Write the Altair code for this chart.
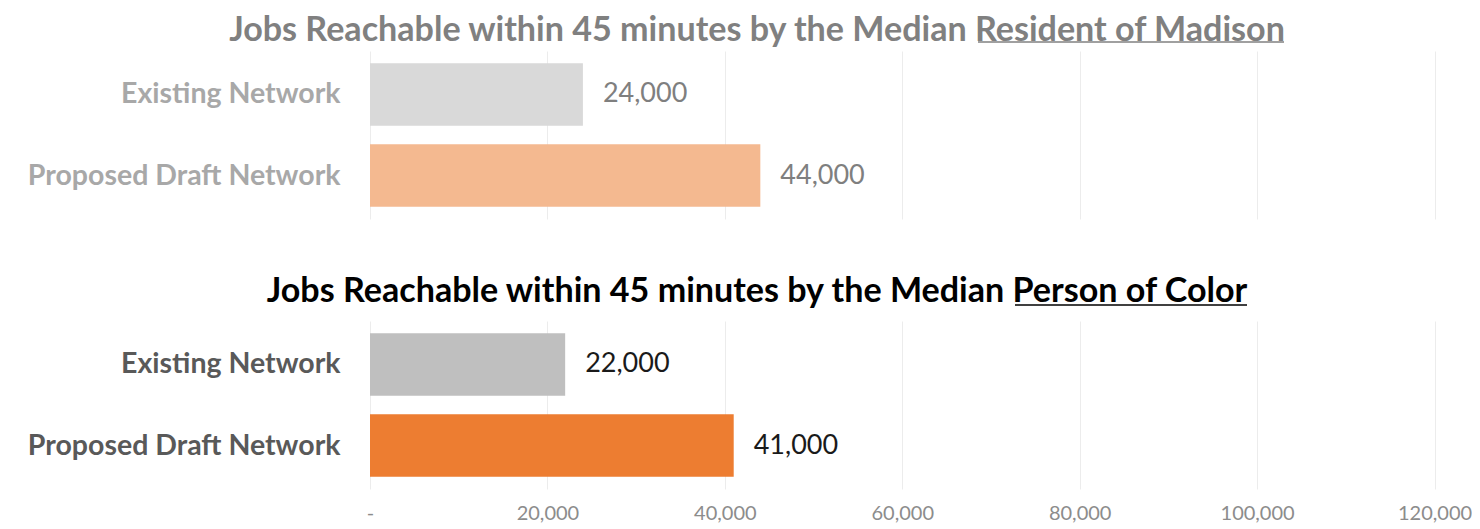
import altair as alt
import pandas as pd

networks = ["Existing Network", "Proposed Draft Network"]
madison_jobs = [24000, 44000]
poc_jobs = [22000, 41000]
x_ticks = [0, 20000, 40000, 60000, 80000, 100000, 120000]

title_top_plain = "Jobs Reachable within 45 minutes by the Median "
title_top_ul = "Resident of Madison"
title_bot_plain = "Jobs Reachable within 45 minutes by the Median "
title_bot_ul = "Person of Color"

FONT = "Lato"
W = 1100
H = 168
XMAX = 124000


def panel(values, colors, title_txt, title_color, label_color, ylab_color, show_x, ul, toff):
    df = pd.DataFrame({"network": networks, "jobs": values})
    y = alt.Y("network:N", sort=networks, title=None,
              scale=alt.Scale(paddingInner=0.23, paddingOuter=0.15),
              axis=alt.Axis(labelFont=FONT, labelFontWeight="bold", labelFontSize=28.5,
                            labelColor=ylab_color, labelPadding=30, ticks=False,
                            domain=False, labelLimit=400))
    x = alt.X("jobs:Q", title=None,
              scale=alt.Scale(domain=[0, XMAX], nice=False),
              axis=alt.Axis(values=x_ticks, grid=True, gridColor="#ececec",
                            domain=False, ticks=False, labels=show_x,
                            labelExpr="datum.value == 0 ? '-' : format(datum.value, ',')",
                            labelFont=FONT, labelFontSize=20, labelColor="#8c8c8c",
                            labelPadding=14, labelFlush=False))
    bars = alt.Chart(df).mark_bar().encode(
        x=x, y=y,
        color=alt.Color("network:N", scale=alt.Scale(domain=networks, range=colors), legend=None),
    )
    text = alt.Chart(df).mark_text(align="left", baseline="middle", dx=20, font=FONT,
                                   fontSize=27, color=label_color).encode(
        x="jobs:Q", y=alt.Y("network:N", sort=networks), text=alt.Text("jobs:Q", format=",")
    )
    rule = alt.Chart(pd.DataFrame({"u": [0]})).mark_rule(color=title_color, strokeWidth=1.5).encode(
        x=alt.value(ul[0]), x2=alt.value(ul[1]), y=alt.value(ul[2])
    )
    return alt.layer(bars, text, rule).resolve_scale(color="independent").properties(
        width=W, height=H,
        view=alt.ViewBackground(stroke="transparent", strokeWidth=0),
        title=alt.TitleParams(title_txt, font=FONT, fontSize=34.1, fontWeight="bold",
                              color=title_color, anchor="middle", frame="group",
                              offset=toff, dx=-163, limit=1400),
    )


top = panel(madison_jobs, ["#d9d9d9", "#f4b990"], title_top_plain + title_top_ul,
            "#808080", "#7f7f7f", "#a8a8a8", False, (608, 914, -9), -7)
bot = panel(poc_jobs, ["#bfbfbf", "#ed7d31"], title_bot_plain + title_bot_ul,
            "#000000", "#1a1a1a", "#595959", True, (645, 877, -16), -5)

chart = alt.vconcat(top, bot, spacing=56).resolve_scale(color="independent").properties(
    padding={"left": 19, "top": 6, "right": 0, "bottom": 0}
).configure_view(stroke="transparent", strokeWidth=0).configure(background="white")

chart.save("out.html", embed_options={"renderer": "svg", "actions": False})
